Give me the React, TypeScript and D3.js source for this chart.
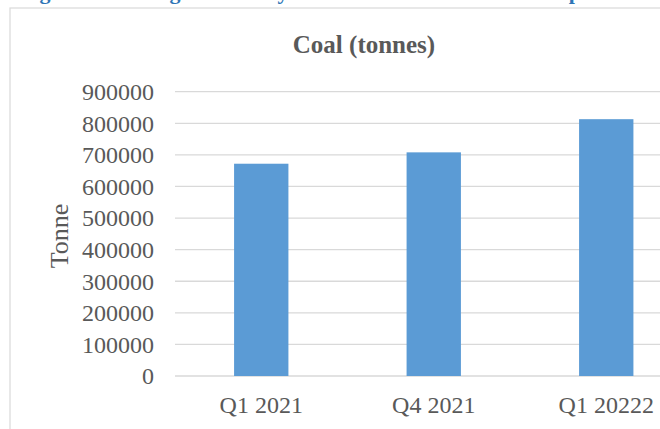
import React from "react";
import * as d3 from "d3";

const categories = ["Q1 2021", "Q4 2021", "Q1 20222"];
const coalTonnes = [672000, 708000, 813000];
const yTicks = [0, 100000, 200000, 300000, 400000, 500000, 600000, 700000, 800000, 900000];
const chartTitle = "Coal (tonnes)";
const yAxisTitle = "Tonne";
// heading words above the chart frame (mostly clipped by the page top)
const headingWords = [
  { text: "Figure 3:", x: 20 },
  { text: "Mining", x: 112 },
  { text: "Activity", x: 214 },
  { text: "Trend of Coal", x: 330 },
  { text: "Output", x: 532 },
];

const W = 660;
const H = 429;
const FONT = "'Liberation Serif', 'Times New Roman', serif";

export default function App() {
  const plotLeft = 175;
  const plotRight = 692.5;
  const plotTop = 91.7;
  const plotBottom = 376;

  const x = d3.scaleBand<string>().domain(categories).range([plotLeft, plotRight]).paddingInner(0.685).paddingOuter(0.3425);
  const y = d3.scaleLinear().domain([0, 900000]).range([plotBottom, plotTop]);

  return (
    <svg
      width={W}
      height={H}
      style={{ position: "absolute", left: 0, top: 0, display: "block", background: "#fff" }}
    >
      <text y={-1.5} fontFamily={FONT} fontWeight="bold" fontSize={22} fill="#2e75b6">
        {headingWords.map((w) => (
          <tspan key={w.text} x={w.x}>
            {w.text}
          </tspan>
        ))}
      </text>

      {/* chart frame */}
      <rect x={10} y={8} width={W + 20} height={H + 20} fill="#fff" stroke="#d9d9d9" strokeWidth={1.2} />

      <text x={364} y={53} textAnchor="middle" fontFamily={FONT} fontWeight="bold" fontSize={25} fill="#595959">
        {chartTitle}
      </text>

      {/* gridlines */}
      {yTicks.map((t) => (
        <line key={t} x1={plotLeft} x2={plotRight} y1={y(t)} y2={y(t)} stroke="#d9d9d9" strokeWidth={1.3} />
      ))}

      {/* y tick labels */}
      {yTicks.map((t) => (
        <text
          key={"l" + t}
          x={154}
          y={y(t)}
          dy="0.35em"
          textAnchor="end"
          fontFamily={FONT}
          fontSize={24}
          fill="#595959"
        >
          {t}
        </text>
      ))}

      {/* bars */}
      {categories.map((c, i) => (
        <rect
          key={c}
          x={x(c)}
          y={y(coalTonnes[i])}
          width={x.bandwidth()}
          height={plotBottom - y(coalTonnes[i])}
          fill="#5b9bd5"
        />
      ))}

      {/* x labels */}
      {categories.map((c) => (
        <text
          key={"x" + c}
          x={(x(c) as number) + x.bandwidth() / 2}
          y={413}
          textAnchor="middle"
          fontFamily={FONT}
          fontSize={24}
          fill="#595959"
        >
          {c}
        </text>
      ))}

      <text
        transform={`translate(68, 236) rotate(-90)`}
        textAnchor="middle"
        fontFamily={FONT}
        fontSize={26}
        fill="#595959"
      >
        {yAxisTitle}
      </text>
    </svg>
  );
}
